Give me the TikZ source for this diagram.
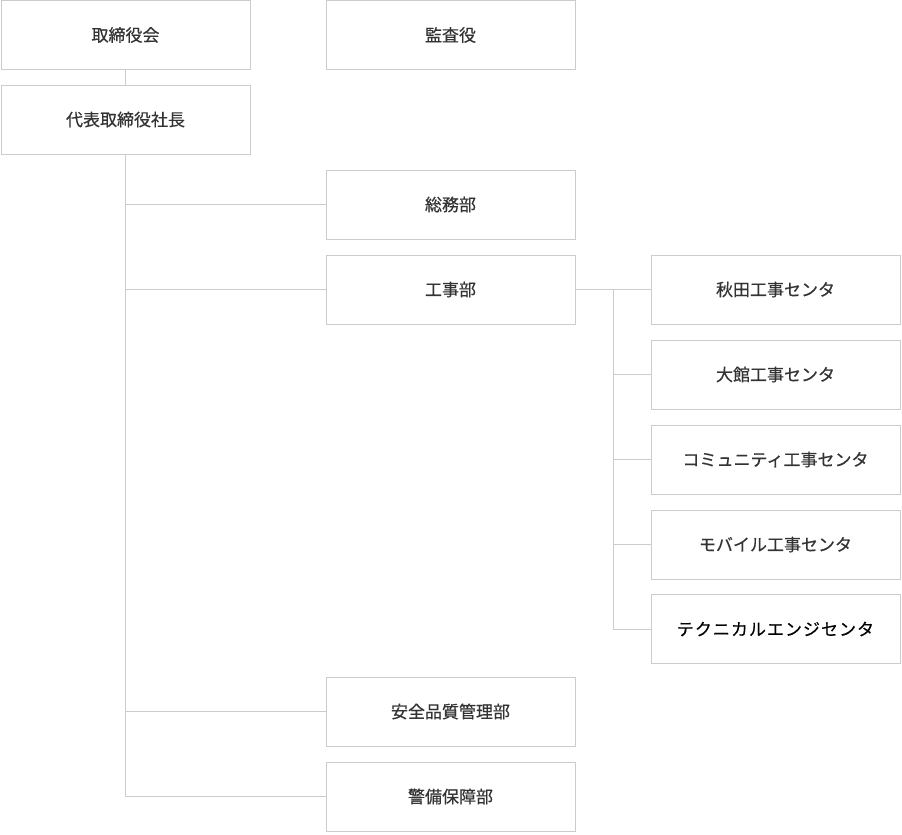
\documentclass[tikz,border=0pt]{standalone}
\usepackage{fontspec}
\newfontfamily\jp[FakeBold=0.5]{Noto Sans CJK JP}
\newfontfamily\jpwide[LetterSpace=6, FakeBold=0.3]{Noto Sans CJK JP}
\usepackage{tikz}
\usetikzlibrary{calc}
\usetikzlibrary{positioning}

\definecolor{framegray}{HTML}{CCCCCC}
\definecolor{textgray}{HTML}{333333}

\tikzset{
	orgbox/.style={draw=framegray, line width=0.9pt, minimum width=249pt, minimum height=69pt,
		inner sep=0pt, font=\jp\fontsize{17}{21}\selectfont, text=textgray},
	orgline/.style={draw=framegray, line width=0.9pt}
}

\begin{document}
\begin{tikzpicture}[x=1pt, y=1pt, node distance=85pt]
	\useasboundingbox (0,0) rectangle (902,-835);

	\node (Board) [orgbox] at (125.5,-35) {取締役会};
	\node (Audit) [orgbox, right of=Board, node distance=325pt] {監査役};

	\node (President) [orgbox, below of=Board, shift={(0, .5)}] {代表取締役社長};

	%Departments

	\node (General) [orgbox, below of=President, shift={(325, 0)}] {総務部};
	\node (Works) [orgbox, below of=General] {工事部};
	\node (Safety) [orgbox, below of=Works, node distance=422pt] {安全品質管理部};
	\node (Security) [orgbox, below of=Safety] {警備保障部};

	%Centers

	\node (Akita) [orgbox, right of=Works, node distance=325pt] {秋田工事センタ};
	\node (Odate) [orgbox, below of=Akita] {大館工事センタ};
	\node (Community) [orgbox, below of=Odate] {コミュニティ工事センタ};
	\node (Mobile) [orgbox, below of=Community] {モバイル工事センタ};
	\node (Technical) [orgbox, below of=Mobile, shift={(0, .5)}, font=\jpwide\fontsize{17}{21}\selectfont, text=black] {テクニカルエンジセンタ};

	%Connectors

	\draw [orgline] (Board) -- (President);
	\foreach \dept in {General, Works, Safety, Security}
		\draw [orgline] (President.south) |- (\dept.west);

	\coordinate (WorksBranch) at ($(Works.east)!.5!(Akita.west)$);
	\draw [orgline] (Works.east) -- (Akita.west);
	\foreach \center in {Odate, Community, Mobile, Technical}
		\draw [orgline] (WorksBranch) |- (\center.west);

\end{tikzpicture}
\end{document}
